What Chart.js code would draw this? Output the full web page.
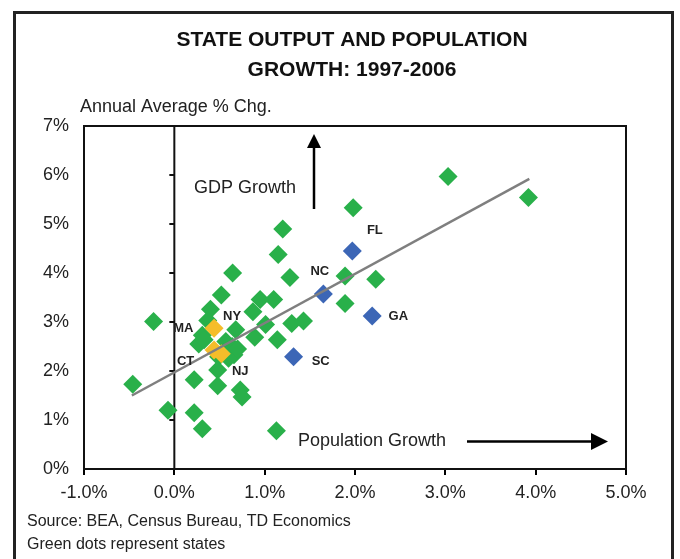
<!DOCTYPE html>
<html>
<head>
<meta charset="utf-8">
<title>State Output and Population Growth</title>
<script src="https://cdn.jsdelivr.net/npm/chart.js@4/dist/chart.umd.min.js"></script>
<style>
  html, body { margin: 0; padding: 0; background: #fff; }
  #wrap { width: 680px; height: 559px; }
</style>
</head>
<body>
<div id="wrap"><canvas id="chartScatter" width="680" height="559"></canvas></div>
<script>
// population growth (x, %) and GDP growth (y, %), annual average 1997-2006
const greenX = [1.20, 1.15, 0.645, 1.28, 0.52, 0.95, 1.10, 0.40, 0.87, -0.23,
                0.37, 1.01, 1.30, 1.43, 0.68, 0.31, 0.89, 1.14, 0.27, 0.57,
                0.64, 0.66, 0.60, 0.49, -0.46, 0.22, 0.48, 0.48, 0.73, 0.75,
                -0.07, 0.22, 0.31, 1.13, 3.03, 3.92, 1.98, 1.89, 2.23, 1.89,
                0.33, 0.70];
const greenY = [4.90, 4.38, 4.00, 3.91, 3.55, 3.46, 3.46, 3.26, 3.21, 3.01,
                3.03, 2.95, 2.97, 3.02, 2.84, 2.73, 2.69, 2.64, 2.55, 2.60,
                2.50, 2.33, 2.26, 2.29, 1.73, 1.82, 2.02, 1.70, 1.61, 1.47,
                1.20, 1.15, 0.82, 0.78, 5.97, 5.54, 5.33, 3.94, 3.87, 3.38,
                2.64, 2.45];

const blueNames = ['FL', 'NC', 'GA', 'SC'];
const blueX = [1.97, 1.65, 2.19, 1.32];
const blueY = [4.45, 3.57, 3.12, 2.29];

const yellowX = [0.44, 0.44, 0.52];
const yellowY = [2.87, 2.43, 2.35];

const trendX = [-0.47, 3.93];
const trendY = [1.50, 5.92];

// state label anchors (data coords)
const labelNames = ['FL', 'NC', 'GA', 'SC', 'NY', 'MA', 'CT', 'NJ'];
const labelX = [2.22, 1.61, 2.48, 1.62, 0.64, 0.10, 0.125, 0.73];
const labelY = [4.86, 4.04, 3.12, 2.19, 3.12, 2.86, 2.19, 1.99];

const xTicks = [-1, 0, 1, 2, 3, 4, 5];

const pts = (xs, ys) => xs.map((x, i) => ({ x: x, y: ys[i] }));

const FONT = '"Liberation Sans", Arial, Helvetica, sans-serif';
Chart.defaults.font.family = FONT;
Chart.defaults.color = '#222';

const decor = {
  id: 'decor',
  beforeDatasetsDraw(chart) {
    const { ctx, chartArea: a, scales: { x, y } } = chart;
    ctx.save();
    ctx.strokeStyle = '#111';
    ctx.lineWidth = 2;
    // top and right frame of plot
    ctx.beginPath();
    ctx.moveTo(a.left, a.top);
    ctx.lineTo(a.right, a.top);
    ctx.lineTo(a.right, a.bottom);
    ctx.stroke();
    // vertical axis at 0%
    const x0 = x.getPixelForValue(0);
    ctx.beginPath();
    ctx.moveTo(x0, a.top);
    ctx.lineTo(x0, a.bottom);
    ctx.stroke();
    // small ticks left of the 0% line
    for (let v = 1; v <= 6; v++) {
      const py = y.getPixelForValue(v);
      ctx.beginPath();
      ctx.moveTo(x0 - 5, py);
      ctx.lineTo(x0, py);
      ctx.stroke();
    }
    ctx.restore();
  },
  afterDraw(chart) {
    const { ctx, scales: { x, y } } = chart;
    ctx.save();
    // outer frame
    ctx.strokeStyle = '#222';
    ctx.lineWidth = 3;
    ctx.strokeRect(14.5, 12.5, 658, 600);

    // title
    ctx.fillStyle = '#111';
    ctx.textAlign = 'center';
    ctx.textBaseline = 'middle';
    ctx.font = 'bold 21px ' + FONT;
    ctx.fillText('STATE OUTPUT AND POPULATION', 352, 40);
    ctx.fillText('GROWTH: 1997-2006', 352, 70);

    ctx.fillStyle = '#222';
    ctx.textAlign = 'left';
    ctx.font = '18px ' + FONT;
    ctx.fillText('Annual Average % Chg.', 80, 107);

    // GDP growth arrow
    ctx.font = '18px ' + FONT;
    ctx.fillText('GDP Growth', 194, 188);
    ctx.strokeStyle = '#000';
    ctx.fillStyle = '#000';
    ctx.lineWidth = 2.5;
    ctx.beginPath();
    ctx.moveTo(314, 209);
    ctx.lineTo(314, 146);
    ctx.stroke();
    ctx.beginPath();
    ctx.moveTo(314, 134);
    ctx.lineTo(307, 148);
    ctx.lineTo(321, 148);
    ctx.closePath();
    ctx.fill();

    // population growth arrow
    ctx.fillStyle = '#222';
    ctx.fillText('Population Growth', 298, 441);
    ctx.fillStyle = '#000';
    ctx.beginPath();
    ctx.moveTo(467, 441.5);
    ctx.lineTo(593, 441.5);
    ctx.stroke();
    ctx.beginPath();
    ctx.moveTo(608, 441.5);
    ctx.lineTo(591, 433);
    ctx.lineTo(591, 450);
    ctx.closePath();
    ctx.fill();

    // state labels
    ctx.fillStyle = '#222';
    ctx.textAlign = 'center';
    ctx.font = 'bold 13px ' + FONT;
    labelNames.forEach((n, i) => {
      ctx.fillText(n, x.getPixelForValue(labelX[i]), y.getPixelForValue(labelY[i]));
    });

    // source
    ctx.textAlign = 'left';
    ctx.font = '16px ' + FONT;
    ctx.fillText('Source: BEA, Census Bureau, TD Economics', 27, 522);
    ctx.fillText('Green dots represent states', 27, 545);
    ctx.restore();
  }
};

const diamond = (color) => ({
  pointStyle: 'rectRot',
  pointRadius: 9.5,
  pointHoverRadius: 9.5,
  pointBackgroundColor: color,
  pointBorderColor: color,
  pointBorderWidth: 0,
  showLine: false
});

new Chart(document.getElementById('chartScatter').getContext('2d'), {
  type: 'scatter',
  data: {
    datasets: [
      Object.assign({ label: 'Trend', data: pts(trendX, trendY), showLine: true,
        borderColor: '#7f7f7f', borderWidth: 2.5, pointRadius: 0, order: 0 }),
      Object.assign({ label: 'Southeast', data: pts(blueX, blueY), order: 1 }, diamond('#3c66b6')),
      Object.assign({ label: 'Northeast', data: pts(yellowX, yellowY), order: 1 }, diamond('#f5bd2a')),
      Object.assign({ label: 'States', data: pts(greenX, greenY), order: 2 }, diamond('#29b04a'))
    ]
  },
  options: {
    responsive: false,
    animation: false,
    layout: { autoPadding: false, padding: { top: 126, right: 54, left: 0, bottom: 50 } },
    plugins: { legend: { display: false }, tooltip: { enabled: false } },
    scales: {
      x: {
        type: 'linear',
        min: -1,
        max: 5,
        afterBuildTicks: (s) => { s.ticks = xTicks.map(v => ({ value: v })); },
        afterFit: (s) => { s.height = 40; },
        ticks: {
          callback: (v) => v.toFixed(1) + '%',
          font: { size: 18 },
          color: '#222',
          padding: 7
        },
        grid: { display: true, drawOnChartArea: false, drawTicks: true, tickLength: 6, color: '#000', lineWidth: 2 },
        border: { display: true, color: '#111', width: 2 }
      },
      y: {
        min: 0,
        max: 7,
        ticks: {
          stepSize: 1,
          callback: (v) => v + '%',
          font: { size: 18 },
          color: '#222',
          padding: 15
        },
        afterFit: (s) => { s.width = 84; },
        grid: { display: false, drawTicks: false },
        border: { display: true, color: '#111', width: 2 }
      }
    }
  },
  plugins: [decor]
});
</script>
</body>
</html>
